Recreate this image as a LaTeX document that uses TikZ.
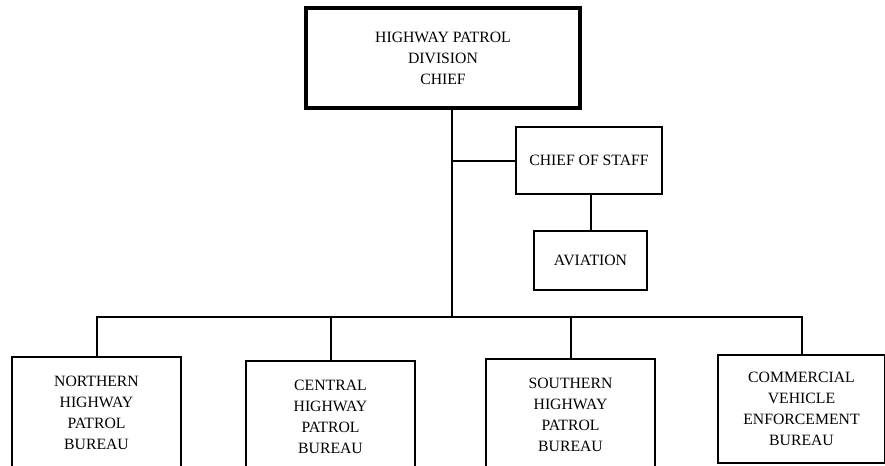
\documentclass[tikz,border=0pt]{standalone}
\usepackage{fontspec}
\setmainfont{Liberation Serif}
\usetikzlibrary{calc}

\tikzset{
	unitbox/.style={draw, line width=1.5pt, rectangle, inner sep=0pt, align=center,
		font=\fontsize{11.8}{15.75}\selectfont},
	chiefbox/.style={unitbox, line width=2.6pt, minimum width=205.5pt, minimum height=75pt},
	bureaubox/.style={unitbox, minimum width=126.75pt, minimum height=83pt},
	link/.style={line width=1.5pt}
}

\begin{document}
\begin{tikzpicture}[x=0.75pt, y=-0.75pt]
	\useasboundingbox (0,0) rectangle (885,465);
	\clip (0,0) rectangle (885,465);
	\node[chiefbox] (chief) at (443,58) {HIGHWAY PATROL\\DIVISION\\CHIEF};
	\node[unitbox, minimum width=109.5pt, minimum height=50.25pt] (staff) at (589,160.5) {CHIEF OF STAFF};
	\node[unitbox, minimum width=84.75pt, minimum height=44.25pt] (aviation) at (590.5,260.5) {AVIATION};
	\node[bureaubox] (northern) at (96.5,412.5) {NORTHERN\\HIGHWAY\\PATROL\\BUREAU};
	\node[bureaubox] (central) at (330.5,416.5) {CENTRAL\\HIGHWAY\\PATROL\\BUREAU};
	\node[bureaubox] (southern) at (570.5,414.5) {SOUTHERN\\HIGHWAY\\PATROL\\BUREAU};
	\node[bureaubox, minimum width=125.25pt, minimum height=81pt] (commercial) at (801.5,409) {COMMERCIAL\\VEHICLE\\ENFORCEMENT\\BUREAU};
	\coordinate (trunktop) at (452,108);
	\coordinate (bus) at (452,317);
	% trunk and staff branch
	\draw[link] (trunktop) -- (bus);
	\draw[link] (staff.west) -- (staff.west -| bus);
	\draw[link] (staff.south -| aviation.north) -- (aviation.north);
	% bureau bus
	\draw[link] (northern.north) |- (bus) -| (commercial.north);
	\draw[link] (central.north) -- (central.north |- bus);
	\draw[link] (southern.north) -- (southern.north |- bus);
\end{tikzpicture}
\end{document}
